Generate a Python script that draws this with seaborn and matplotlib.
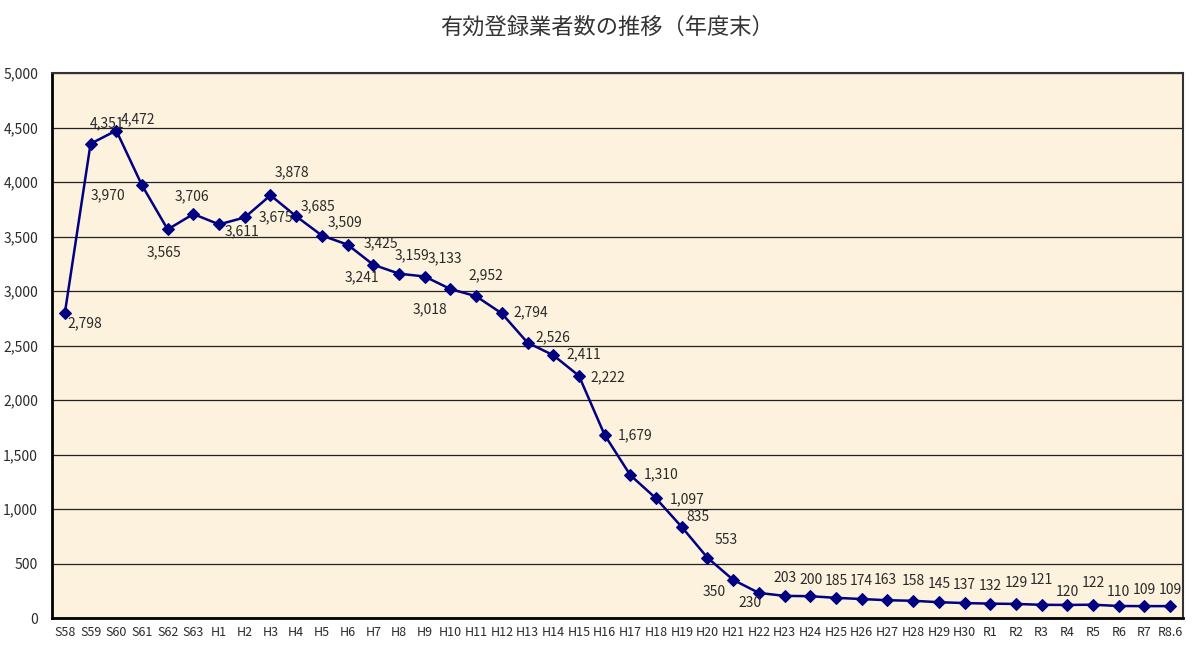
import matplotlib
matplotlib.use("Agg")
import matplotlib.pyplot as plt
import matplotlib.ticker as mticker
import pandas as pd
import seaborn as sns

# 年度末の有効登録業者数
years = (
    ["S58", "S59", "S60", "S61", "S62", "S63"]
    + [f"H{i}" for i in range(1, 31)]
    + ["R1", "R2", "R3", "R4", "R5", "R6", "R7", "R8.6"]
)
counts = [
    2798, 4351, 4472, 3970, 3565, 3706,
    3611, 3675, 3878, 3685, 3509, 3425, 3241, 3159, 3133, 3018,
    2952, 2794, 2526, 2411, 2222, 1679, 1310, 1097, 835, 553,
    350, 230, 203, 200, 185, 174, 163, 158, 145, 137,
    132, 129, 121, 120, 122, 110, 109, 109,
]
title = "有効登録業者数の推移（年度末）"

# label placement (pixels from the marker), imitating the spreadsheet's layout
label_offsets = [
    (20, -10), (17, 20), (22, 11), (-34, -10), (-4, -23), (-1, 18),
    (23, -7), (31, 0), (21, 23), (22, 10), (23, 13), (33, 1),
    (-11, -13), (13, 18), (20, 18), (-20, -20), (10, 21), (29, 1),
    (25, 5), (31, 1), (29, -1), (30, 0), (31, 1), (31, -1),
    (16, 10), (19, 18), (-19, -12), (-9, -10), (0, 18), (1, 16),
    (0, 17), (0, 18), (-2, 20), (0, 20), (1, 18), (0, 18),
    (0, 18), (0, 21), (0, 25), (0, 13), (0, 22), (0, 14),
    (0, 16), (0, 16),
]

NAVY = "#000080"
TEXT = "#2a2a2a"

sns.set_style("white")
plt.rcParams["font.family"] = ["Noto Sans CJK JP", "DejaVu Sans"]

df = pd.DataFrame({"year": years, "count": counts})

fig = plt.figure(figsize=(12, 6.46), dpi=100)
ax = fig.add_axes([52 / 1200, 28 / 646, 1131 / 1200, 545 / 646])
ax.set_facecolor("#FCF2DD")

sns.lineplot(data=df, x="year", y="count", sort=False, color=NAVY,
             linewidth=1.8, marker="D", markersize=6.5,
             markeredgecolor=NAVY, markerfacecolor=NAVY, ax=ax)

for i, (v, (dx, dy)) in enumerate(zip(counts, label_offsets)):
    ax.annotate(f"{v:,}", (i, v), xytext=(dx, dy), textcoords="offset pixels",
                ha="center", va="center", fontsize=10, color=TEXT)

ax.set_xlim(-0.5, len(years) - 0.5)
ax.set_ylim(0, 5000)
ax.set_yticks(range(0, 5001, 500))
ax.yaxis.set_major_formatter(mticker.FuncFormatter(lambda v, _: f"{int(v):,}"))
ax.yaxis.grid(True, color="#222222", linewidth=0.9)
ax.set_axisbelow(True)

ax.set_xticks(range(len(years)))
ax.set_xticklabels(years)
ax.set_xticks([1.5 + 2 * k for k in range(len(years) // 2 - 1)], minor=True)
ax.tick_params(axis="x", which="major", length=0, labelsize=9, pad=6, colors=TEXT)
ax.tick_params(axis="x", which="minor", length=5, width=1, direction="in", color="#222222")
ax.tick_params(axis="y", length=0, labelsize=10, pad=10, colors=TEXT)

ax.set_xlabel("")
ax.set_ylabel("")

for side in ["top", "right"]:
    ax.spines[side].set_color("#333333")
    ax.spines[side].set_linewidth(1.5)
for side in ["left", "bottom"]:
    ax.spines[side].set_color("black")
    ax.spines[side].set_linewidth(2)

fig.text(0.506, 0.958, title, ha="center", va="center", fontsize=16, color="#333333")

fig.savefig("out.png", dpi=100, facecolor="white")
